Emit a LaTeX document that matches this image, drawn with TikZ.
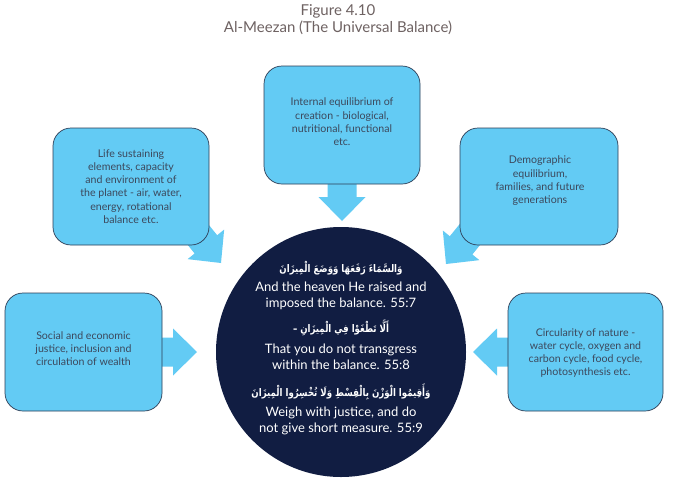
\documentclass[tikz,border=0pt]{standalone}
\usepackage{fontspec}
\setmainfont{Lato}
\newfontfamily\arabicfont[Script=Arabic]{DejaVu Sans}
\TeXXeTstate=1
\definecolor{skyb}{RGB}{99,203,244}
\definecolor{edgec}{RGB}{45,60,85}
\definecolor{navy}{RGB}{17,29,66}
\definecolor{boxtxt}{RGB}{60,72,92}
\definecolor{titletxt}{RGB}{110,98,98}
\newcommand{\arline}[1]{\scalebox{0.82}[1]{#1}}
\begin{document}
\begin{tikzpicture}[x=1pt,y=-1pt,
  box/.style={draw=edgec, line width=0.7pt, fill=skyb, rounded corners=18pt, inner sep=0pt},
  boxtext/.style={text=boxtxt, align=center, font=\fontsize{10.6}{13.3}\selectfont, inner sep=0pt},
  artext/.style={text=white, font=\arabicfont\bfseries\fontsize{10.5}{13}\selectfont, inner sep=0pt},
  entext/.style={text=white, align=center, font=\fontsize{13}{16}\selectfont, inner sep=0pt},
  titletext/.style={text=titletxt, font=\fontsize{15}{17}\selectfont, inner sep=0pt},
  blockarrow/.pic={\fill[skyb] (0,0) -- (-24,23.5) -- (-24,14.5) -- (-62,14.5) -- (-62,-14.5) -- (-24,-14.5) -- (-24,-23.5) -- cycle;}
]
\useasboundingbox[fill=white] (0,0) rectangle (675,485);
% titles
\node[titletext] (ttl1) at (338,11) {Figure 4.10};
\node[titletext] (ttl2) at (338,28) {Al-Meezan (The Universal Balance)};
% arrow tips
\coordinate (tipT) at (342,221);
\coordinate (tipLT) at (221,263);
\coordinate (tipRT) at (446,264);
\coordinate (tipLB) at (197,352);
\coordinate (tipRB) at (473,352);
\pic[rotate=-90] at (tipT) {blockarrow};
\pic[rotate=-51] at (tipLT) {blockarrow};
\pic[rotate=-129] at (tipRT) {blockarrow};
\pic[rotate=0] at (tipLB) {blockarrow};
\pic[rotate=180] at (tipRB) {blockarrow};
% boxes
\node[box, minimum width=156pt, minimum height=118pt] (t) at (342,125) {};
\node[box, minimum width=156pt, minimum height=117pt] (lt) at (131,186.5) {};
\node[box, minimum width=158pt, minimum height=117pt] (rt) at (539,186.5) {};
\node[box, minimum width=157pt, minimum height=118pt] (lb) at (83.5,352) {};
\node[box, minimum width=155pt, minimum height=118pt] (rb) at (585.5,352) {};
\node[boxtext] (tx) at (342,122) {Internal equilibrium of\\creation - biological,\\nutritional, functional\\etc.};
\node[boxtext] (ltx) at (131,186.5) {Life sustaining\\elements, capacity\\and environment of\\the planet - air, water,\\energy, rotational\\balance etc.};
\node[boxtext] (rtx) at (540,181) {Demographic\\equilibrium,\\families, and future\\generations};
\node[boxtext] (lbx) at (83.5,348.5) {Social and economic\\justice, inclusion and\\circulation of wealth};
\node[boxtext] (rbx) at (585.5,353) {Circularity of nature -\\water cycle, oxygen and\\carbon cycle, food cycle,\\photosynthesis etc.};
% circle
\node[circle, fill=navy, minimum size=250pt, inner sep=0pt] (c) at (341,352) {};
\node[artext] (ar1) at (341,268) {\arline{\beginR وَالسَّمَاءَ رَفَعَهَا وَوَضَعَ الْمِيزَانَ\endR}};
\node[entext] (en1) at (341,296) {And the heaven He raised and\\imposed the balance. 55:7};
\node[artext] (ar2) at (341,328) {\arline{–\ \beginR أَلَّا تَطْغَوْا فِي الْمِيزَانِ\endR}};
\node[entext] (en2) at (341,357) {That you do not transgress\\within the balance. 55:8};
\node[artext] (ar3) at (341,392) {\arline{\beginR وَأَقِيمُوا الْوَزْنَ بِالْقِسْطِ وَلَا تُخْسِرُوا الْمِيزَانَ\endR}};
\node[entext] (en3) at (341,420.5) {Weigh with justice, and do\\not give short measure. 55:9};
\end{tikzpicture}
\end{document}
